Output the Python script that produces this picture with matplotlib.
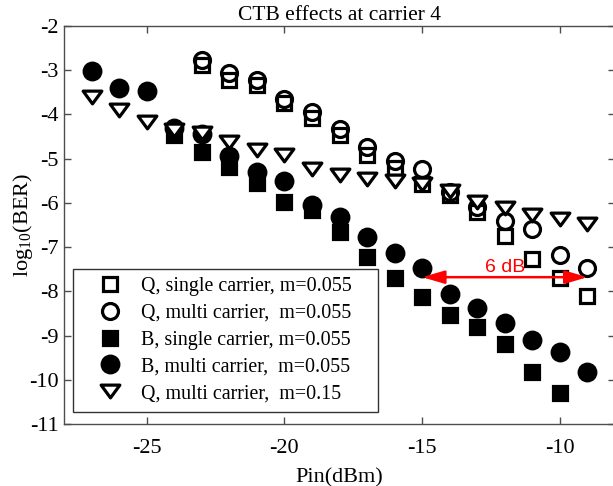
import matplotlib
matplotlib.use('Agg')
import matplotlib.pyplot as plt
from matplotlib.path import Path
from matplotlib.patches import Rectangle
import numpy as np

plt.rcParams['font.family'] = ['Liberation Serif', 'DejaVu Serif']
plt.rcParams['mathtext.fontset'] = 'custom'
plt.rcParams['mathtext.rm'] = 'Liberation Serif'
plt.rcParams['axes.unicode_minus'] = False

# input power sweep (dBm)
pin = np.arange(-27, -8)
pin_q_single = np.arange(-23, -8)
pin_q_multi = np.arange(-23, -8)
pin_b_single = np.arange(-24, -9)

# log10(BER)
q_single = [-2.88, -3.22, -3.34, -3.75, -4.08, -4.47, -4.92, -5.20, -5.58,
            -5.82, -6.20, -6.75, -7.27, -7.70, -8.10]
q_multi = [-2.77, -3.07, -3.22, -3.65, -3.94, -4.33, -4.74, -5.05, -5.24,
           -5.75, -6.09, -6.40, -6.60, -7.18, -7.47]
b_single = [-4.47, -4.85, -5.18, -5.55, -5.98, -6.15, -6.65, -7.23, -7.69,
            -8.12, -8.54, -8.81, -9.19, -9.82, -10.30]
b_multi = [-3.01, -3.40, -3.46, -4.30, -4.45, -4.94, -5.30, -5.50, -6.05,
           -6.33, -6.78, -7.13, -7.47, -8.05, -8.37, -8.72, -9.10, -9.38, -9.83]
q_multi_015 = [-3.60, -3.90, -4.18, -4.35, -4.42, -4.62, -4.80, -4.92, -5.23,
               -5.38, -5.46, -5.50, -5.58, -5.72, -5.97, -6.12, -6.27, -6.37, -6.48]

labels = ['Q, single carrier, m=0.055',
          'Q, multi carrier,  m=0.055',
          'B, single carrier, m=0.055',
          'B, multi carrier,  m=0.055',
          'Q, multi carrier,  m=0.15']

fig = plt.figure(figsize=(6.13, 4.86), dpi=100)
ax = fig.add_axes([64/613, 62/486, 551/613, 398/486])

# wide downward triangle
tri = Path([(-1, 0.68), (1, 0.68), (0, -0.68), (-1, 0.68)], closed=True)
ew = 2.3
ax.plot(pin_q_single, q_single, 's', ms=9.8, mfc='none', mec='k', mew=ew, label=labels[0])
ax.plot(pin_q_multi, q_multi, 'o', ms=11.5, mfc='none', mec='k', mew=ew, label=labels[1])
ax.plot(pin_b_single, b_single, 's', ms=9.8, mfc='k', mec='k', mew=ew, label=labels[2])
ax.plot(pin, b_multi, 'o', ms=12, mfc='k', mec='k', mew=ew, label=labels[3])
ax.plot(pin, q_multi_015, marker=tri, ls='none', ms=13.5, mfc='w', mec='k', mew=ew,
        label=labels[4])

# 6 dB gap between the B curves
ax.annotate('', xy=(-15, -7.68), xytext=(-9, -7.68),
            arrowprops=dict(arrowstyle='<|-|>,head_length=0.75,head_width=0.22',
                            color='red', lw=1.8, mutation_scale=18,
                            shrinkA=0, shrinkB=0))
ax.text(-12, -7.45, '6 dB', color='red', fontsize=14, ha='center', va='center',
        family=['Liberation Sans', 'DejaVu Sans'])

ax.set_xlim(-28, -8)
ax.set_ylim(-11, -2)
ax.set_xticks([-25, -20, -15, -10])
ax.set_yticks(np.arange(-11, -1))
ax.tick_params(direction='in', top=True, right=True, length=5, width=1,
               labelsize=16, color='0.3')
ax.tick_params(axis='x', pad=11)
ax.tick_params(axis='y', pad=4)
for s in ax.spines.values():
    s.set_color('0.3')
    s.set_linewidth(1)

ax.set_title('CTB effects at carrier 4', fontsize=15.5, pad=4)
ax.set_xlabel('Pin(dBm)', fontsize=16, labelpad=7)
ax.set_ylabel(r'log$_{10}$(BER)', fontsize=16)
ax.yaxis.set_label_coords(-0.053, 0.5)

# legend box drawn separately so it keeps the wide right margin
ax.add_patch(Rectangle((9/551, 12/398), 305/551, 143/398, transform=ax.transAxes,
                       fc='w', ec='0.2', lw=1, zorder=4))
leg = ax.legend(loc='upper left', bbox_to_anchor=(34/551, 147/398), borderaxespad=0,
                fontsize=14.4, numpoints=1, handlelength=1.2, handletextpad=0.95,
                labelspacing=0.39, borderpad=0, frameon=False)
leg.set_zorder(5)

fig.savefig('out.png', dpi=100)
